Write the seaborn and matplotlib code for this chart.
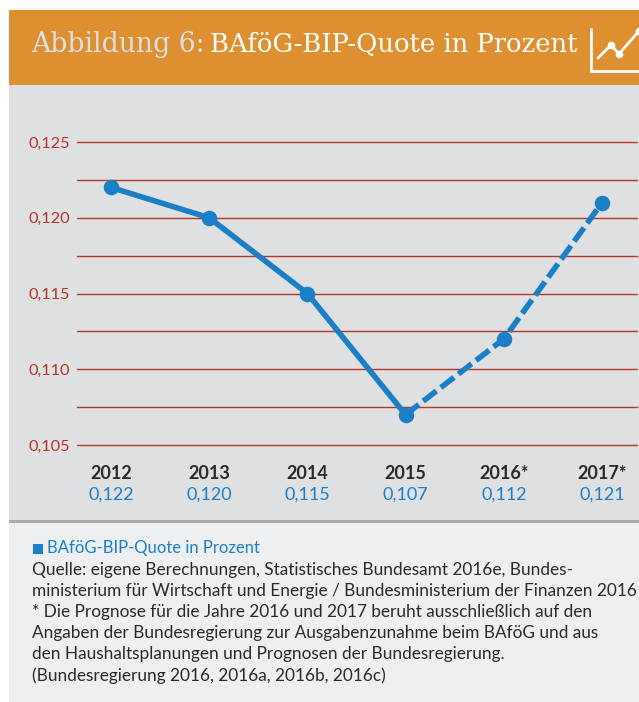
import matplotlib
matplotlib.use("Agg")
import matplotlib.pyplot as plt
import pandas as pd
import seaborn as sns
from matplotlib.patches import Rectangle

years = ["2012", "2013", "2014", "2015", "2016*", "2017*"]
quote = [0.122, 0.120, 0.115, 0.107, 0.112, 0.121]
quote_labels = ["0,122", "0,120", "0,115", "0,107", "0,112", "0,121"]
y_ticks = [0.105, 0.110, 0.115, 0.120, 0.125]
y_tick_labels = ["0,105", "0,110", "0,115", "0,120", "0,125"]
grid_lines = [0.105, 0.1075, 0.110, 0.1125, 0.115, 0.1175, 0.120, 0.1225, 0.125]

source_lines = [
    "Quelle: eigene Berechnungen, Statistisches Bundesamt 2016e, Bundes-",
    "ministerium für Wirtschaft und Energie / Bundesministerium der Finanzen 2016",
    "* Die Prognose für die Jahre 2016 und 2017 beruht ausschließlich auf den",
    "Angaben der Bundesregierung zur Ausgabenzunahme beim BAföG und aus",
    "den Haushaltsplanungen und Prognosen der Bundesregierung.",
    "(Bundesregierung 2016, 2016a, 2016b, 2016c)",
]

BLUE = "#1a7fc6"
RED = "#b5352a"
DARK = "#2b2a29"

W, H = 639, 702
sns.set_theme(style="white")
plt.rcParams["font.family"] = ["Lato", "DejaVu Sans"]

fig = plt.figure(figsize=(W / 100, H / 100), dpi=100, facecolor="white")

# background layer in pixel coordinates
bg = fig.add_axes([0, 0, 1, 1], zorder=0)
bg.set_xlim(0, W)
bg.set_ylim(H, 0)
bg.axis("off")
bg.add_patch(Rectangle((9, 10), W - 9, 75, color="#de8f30", lw=0))
bg.add_patch(Rectangle((9, 85), W - 9, 435, color="#dfe0e2", lw=0))
bg.add_patch(Rectangle((9, 520), W - 9, 3, color="#a9abad", lw=0))
bg.add_patch(Rectangle((9, 523), W - 9, H - 523, color="#eeeff1", lw=0))

# header
bg.text(31, 44, "Abbildung 6:", family="DejaVu Serif", fontsize=19.2, color="#dfe0e2", va="center")
bg.text(210, 44, "BAföG-BIP-Quote in Prozent", family="DejaVu Serif", fontsize=18.6, color="white", va="center")
bg.plot([590.5, 590.5, 639], [29, 71, 71], color="white", lw=2, solid_joinstyle="miter")
bg.plot([598, 611, 619, 639], [58, 45, 54, 31], color="white", lw=2)
bg.plot([611, 619, 639], [45, 54, 31], "o", color="white", ms=5.5, mew=0)

# chart
ax = fig.add_axes([77 / W, 1 - 445 / H, 560 / W, 303 / H], zorder=1)
ax.patch.set_alpha(0)
df = pd.DataFrame({"year": years, "quote": quote})
for v in grid_lines:
    ax.axhline(v, color=RED, lw=1.0, zorder=1, clip_on=False)
sns.lineplot(data=df.iloc[:4], x="year", y="quote", color=BLUE, lw=4, ax=ax, zorder=3, sort=False)
sns.lineplot(data=df.iloc[3:], x="year", y="quote", color=BLUE, lw=4, ax=ax, zorder=3, sort=False,
             linestyle=(0, (3.0, 1.0)))
sns.scatterplot(data=df, x="year", y="quote", color=BLUE, s=125, linewidth=0, ax=ax, zorder=4, clip_on=False)
ax.set_xlim(-0.346, 5.356)
ax.set_ylim(0.105, 0.125)
ax.set_yticks(y_ticks, y_tick_labels, color=RED, fontsize=11.8)
ax.tick_params(axis="y", length=0, pad=5)
ax.set_xticks(range(len(years)), years, fontsize=13, fontweight="bold", color=DARK)
ax.tick_params(axis="x", length=0, pad=14.5)
ax.set_xlabel("")
ax.set_ylabel("")
sns.despine(ax=ax, left=True, bottom=True, top=True, right=True)
for i, label in enumerate(quote_labels):
    ax.annotate(label, (i, 0.105), xytext=(0, -50), textcoords="offset pixels",
                ha="center", va="center", color=BLUE, fontsize=13)

# footer
bg.add_patch(Rectangle((33, 544), 10, 10, color=BLUE, lw=0))
bg.text(47, 548, "BAföG-BIP-Quote in Prozent", color=BLUE, fontsize=12, va="center")
for i, line in enumerate(source_lines):
    bg.text(32, 569.5 + i * 21.2, line, color=DARK, fontsize=12.4, va="center")

fig.savefig("out.png", dpi=100)
